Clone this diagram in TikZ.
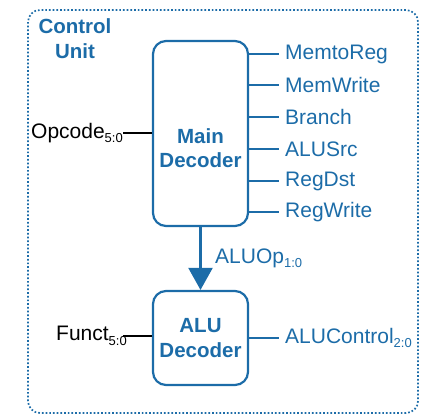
\documentclass[tikz,border=0pt]{standalone}
\usepackage{fontspec}
\setmainfont{Liberation Sans}
\usetikzlibrary{arrows.meta}
\definecolor{cblue}{RGB}{28,108,168}
\newcommand\lowtxt[1]{\raisebox{-0.4ex}{\fontsize{13}{13}\selectfont #1}}
\tikzset{
  x=1pt, y=-1pt,
  decbox/.style={draw=cblue, line width=2.2pt, rounded corners=13pt, minimum width=95pt, align=center, font=\fontsize{20.5}{25}\selectfont\bfseries, text=cblue, inner sep=0pt},
  sig/.style={draw=cblue, line width=1.8pt},
  insig/.style={draw=black, line width=1.8pt},
  outlbl/.style={anchor=west, text=cblue, font=\fontsize{21}{24}\selectfont, inner sep=0pt},
  inlbl/.style={anchor=east, text=black, font=\fontsize{21}{24}\selectfont, inner sep=0pt}
}
\begin{document}
\begin{tikzpicture}
\useasboundingbox (0,0) rectangle (421,416);
\draw[cblue, line width=1.7pt, dotted, rounded corners=12pt] (28,10) rectangle (418,413);
\node[text=cblue, font=\fontsize{20.5}{25}\selectfont\bfseries, align=center] (cu) at (75,39) {Control\\Unit};
\node[decbox, minimum height=185pt] (main) at (200.5,133.5) {};
\node[text=cblue, font=\fontsize{20.5}{24}\selectfont\bfseries, align=center] (mainlbl) at (200.5,148) {Main\\Decoder};
\node[decbox, minimum height=94pt] (alu) at (200.5,338) {ALU\\Decoder};
% outputs
\foreach \nm/\yy in {MemtoReg/54, MemWrite/85, Branch/117, ALUSrc/149, RegDst/181, RegWrite/212}{
  \coordinate (e\nm) at (279,\yy);
  \draw[sig] (main.east |- e\nm) -- (e\nm);
  \node[outlbl] (l\nm) at (285,\yy) {\nm};
}
% opcode
\node[inlbl] (op) at (123,133) {Opcode\lowtxt{5:0}};
\draw[insig] (op.east) -- (main.west |- op.east);
% funct
\node[inlbl] (fn) at (127,336) {Funct\lowtxt{5:0}};
\draw[insig] (fn.east) ++(-4,0) coordinate (fs) -- (alu.west |- fs);
% alu control
\coordinate (ac) at (279,338);
\draw[sig] (alu.east) -- (ac);
\node[outlbl] (lac) at (285,338) {ALUControl\lowtxt{2:0}};
% ALUOp arrow
\draw[cblue, line width=2.2pt, -{Triangle[length=22pt,width=24pt]}] (main.south) -- (alu.north);
\node[outlbl] (aluop) at (215,258) {ALUOp\lowtxt{1:0}};
\end{tikzpicture}
\end{document}
